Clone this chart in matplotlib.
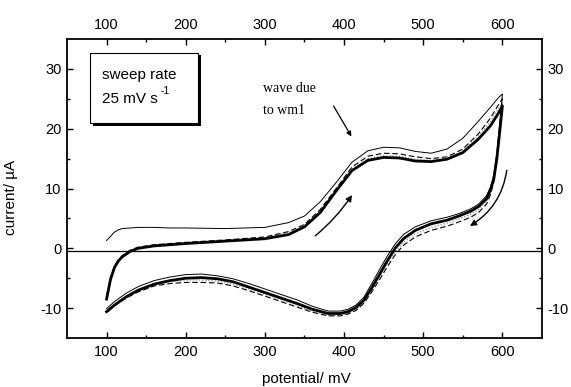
import matplotlib
matplotlib.use('Agg')
from matplotlib import pyplot as plt
from matplotlib.patches import Rectangle

plt.rcParams['axes.unicode_minus'] = False

# potential grids (mV) for the forward and reverse sweeps
e_fwd = [100, 105, 110, 115, 120, 130, 140, 160, 180, 200, 250, 300, 330, 350,
         370, 390, 410, 430, 450, 470, 490, 510, 530, 550, 570, 585, 595, 600]
e_rev = [600, 597, 593, 589, 585, 580, 570, 560, 545, 530, 510, 490, 475, 465,
         455, 445, 435, 425, 415, 405, 395, 380, 360, 340, 320, 300, 280, 260,
         240, 220, 200, 180, 160, 140, 125, 110, 100]

# main (thick) cycle, current in uA
i_main_fwd = [-8.5, -5.2, -3.2, -2.1, -1.4, -0.5, 0.0, 0.4, 0.6, 0.8, 1.2, 1.6, 2.3, 3.6,
              6.0, 9.6, 13.0, 14.7, 15.2, 15.1, 14.6, 14.5, 14.9, 16.0, 18.3, 20.5, 22.6, 23.8]
i_main_rev = [23.8, 20.0, 15.0, 11.5, 9.8, 8.3, 7.0, 6.2, 5.4, 4.7, 4.1, 3.0, 1.6, 0.1,
              -2.0, -4.3, -6.6, -8.7, -9.9, -10.6, -10.9, -10.9, -10.2, -9.2, -8.3, -7.4, -6.5, -5.6,
              -5.1, -4.9, -5.0, -5.4, -6.0, -7.0, -8.1, -9.5, -10.6]

# first cycle (thin solid)
i_c1_fwd = [1.3, 2.0, 2.7, 3.1, 3.3, 3.4, 3.5, 3.5, 3.4, 3.4, 3.3, 3.5, 4.3, 5.4,
            7.8, 11.0, 14.4, 16.3, 16.9, 16.8, 16.2, 15.9, 16.6, 18.4, 21.3, 23.6, 25.2, 25.8]
i_c1_rev = [25.8, 21.5, 16.0, 12.2, 10.3, 8.8, 7.4, 6.6, 5.8, 5.2, 4.6, 3.6, 2.3, 0.8,
            -1.2, -3.5, -5.9, -8.2, -9.5, -10.2, -10.5, -10.5, -9.7, -8.6, -7.7, -6.8, -5.9, -5.1,
            -4.6, -4.3, -4.4, -4.8, -5.4, -6.4, -7.5, -8.9, -10.1]

# second cycle (dashed)
i_c2_fwd = [-8.0, -4.9, -3.0, -1.9, -1.2, -0.3, 0.2, 0.6, 0.8, 1.0, 1.4, 1.9, 2.8, 4.0,
            6.5, 10.0, 13.6, 15.4, 15.9, 15.8, 15.3, 15.0, 15.3, 16.6, 19.2, 21.8, 24.0, 25.0]
i_c2_rev = [25.0, 20.5, 15.2, 11.0, 9.0, 7.4, 6.0, 5.2, 4.4, 3.7, 3.0, 1.9, 0.5, -1.0,
            -3.0, -5.2, -7.3, -9.2, -10.4, -11.0, -11.3, -11.3, -10.7, -9.8, -8.9, -8.0, -7.1, -6.3,
            -5.8, -5.7, -5.7, -5.9, -6.3, -7.3, -8.3, -9.6, -10.8]

# third cycle (dotted grey)
i_c3_fwd = [-8.2, -5.0, -3.1, -2.0, -1.3, -0.4, 0.1, 0.5, 0.7, 0.9, 1.3, 1.7, 2.6, 3.7,
            6.2, 9.6, 13.2, 15.0, 15.5, 15.4, 14.9, 14.7, 15.0, 16.3, 18.8, 21.2, 23.4, 24.4]
i_c3_rev = [24.4, 20.2, 15.0, 11.2, 9.4, 7.9, 6.5, 5.7, 4.9, 4.2, 3.5, 2.4, 1.0, -0.5,
            -2.5, -4.8, -7.0, -9.0, -10.2, -10.9, -11.2, -11.2, -10.5, -9.5, -8.6, -7.7, -6.8, -6.0,
            -5.5, -5.3, -5.3, -5.6, -6.1, -7.1, -8.1, -9.5, -10.7]

baseline = -0.5

tick_font = ['Liberation Sans Narrow', 'Liberation Sans', 'DejaVu Sans']
label_font = ['Liberation Sans', 'DejaVu Sans']
serif_font = ['Liberation Serif', 'DejaVu Serif']

fig = plt.figure(figsize=(5.71, 3.87), dpi=100)
ax = fig.add_axes([0.1173, 0.1266, 0.8319, 0.7726])

e_cycle = e_fwd + e_rev
ax.plot(e_cycle, i_c3_fwd + i_c3_rev, color='0.55', lw=0.9, ls=(0, (1, 1.5)))
ax.plot(e_cycle, i_c2_fwd + i_c2_rev, color='black', lw=0.8, ls=(0, (5, 2.5)))
ax.plot(e_cycle, i_c1_fwd + i_c1_rev, color='black', lw=0.7)
ax.plot(e_cycle, i_main_fwd + i_main_rev, color='black', lw=2.0)

ax.axhline(baseline, color='black', lw=0.9)

# sweep direction arrows
ax.annotate('', xy=(412, 9.3), xytext=(361, 1.8),
            arrowprops=dict(arrowstyle='-|>', color='black', lw=1.0, mutation_scale=9,
                            connectionstyle='arc3,rad=0.08'))
ax.annotate('', xy=(556, 3.5), xytext=(606, 13.5),
            arrowprops=dict(arrowstyle='-|>', color='black', lw=1.0, mutation_scale=9,
                            connectionstyle='arc3,rad=-0.25'))

# annotation of the wave
ax.annotate('', xy=(411, 18.3), xytext=(385, 24.2),
            arrowprops=dict(arrowstyle='-|>', color='black', lw=0.9, mutation_scale=7))
ax.text(297, 26.7, 'wave due', family=serif_font, fontsize=10, va='center', ha='left')
ax.text(297, 23.0, 'to wm1', family=serif_font, fontsize=10, va='center', ha='left')

# legend-like box with shadow
ax.add_patch(Rectangle((0.054, 0.708), 0.228, 0.238, transform=ax.transAxes,
                       facecolor='black', edgecolor='none', zorder=4))
ax.add_patch(Rectangle((0.048, 0.719), 0.228, 0.234, transform=ax.transAxes,
                       facecolor='white', edgecolor='black', lw=0.8, zorder=5))
ax.text(0.074, 0.88, 'sweep rate', transform=ax.transAxes, family=label_font,
        fontsize=11, va='center', ha='left', zorder=6)
ax.text(0.074, 0.80, '25 mV s', transform=ax.transAxes, family=label_font,
        fontsize=11, va='center', ha='left', zorder=6)
ax.text(0.197, 0.825, '-1', transform=ax.transAxes, family=label_font,
        fontsize=7.5, va='center', ha='left', zorder=6)

ax.set_xlim(50, 650)
ax.set_ylim(-15, 35)
ax.set_xticks([100, 200, 300, 400, 500, 600])
ax.set_xticks([150, 250, 350, 450, 550], minor=True)
ax.set_yticks([-10, 0, 10, 20, 30])
ax.set_yticks([-5, 5, 15, 25], minor=True)

ax.tick_params(which='both', direction='in', top=True, right=True,
               labeltop=True, labelright=True, width=1.0)
ax.tick_params(which='major', length=4)
ax.tick_params(which='minor', length=2.5)
ax.tick_params(axis='x', pad=5)
ax.tick_params(axis='y', pad=4)
for tick in ax.xaxis.get_major_ticks() + ax.yaxis.get_major_ticks():
    for lab in (tick.label1, tick.label2):
        lab.set_family(tick_font)
        lab.set_fontsize(10.5)

for sp in ax.spines.values():
    sp.set_linewidth(1.3)

ax.set_xlabel('potential/ mV', family=label_font, fontsize=11)
ax.set_ylabel('current/ \u00b5A', family=label_font, fontsize=11)
ax.xaxis.set_label_coords(0.503, -0.114)
ax.yaxis.set_label_coords(-0.103, 0.47)

fig.savefig('out.png', dpi=100)
